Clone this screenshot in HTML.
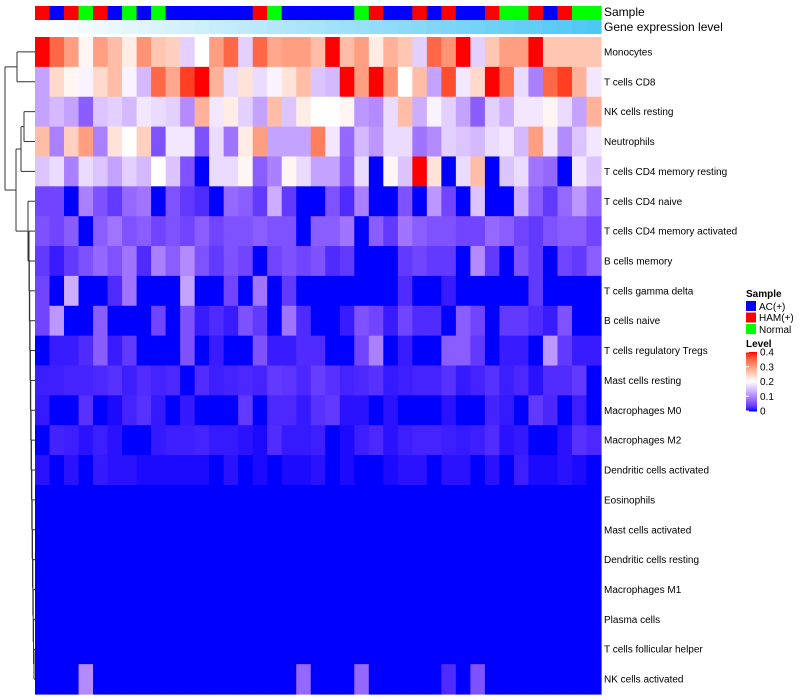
<!DOCTYPE html>
<html><head><meta charset="utf-8"><style>
html,body{margin:0;padding:0;background:#fff;}
svg{display:block;font-family:"Liberation Sans",Arial,sans-serif;}
</style></head><body>
<svg id="chart" width="800" height="700" viewBox="0 0 800 700" xmlns="http://www.w3.org/2000/svg">
<g id="dend" stroke="#333" stroke-width="1" fill="none"></g>
<g id="cells"></g>
<g id="anno"></g>
<g id="labels" font-size="10" fill="#000"></g>
<text x="604" y="16" font-size="12">Sample</text>
<text x="604" y="31" font-size="12">Gene expression level</text>
<g font-size="10">
<text x="746" y="297" font-weight="bold">Sample</text>
<rect x="746" y="301" width="10" height="10" fill="#0000ff"/>
<text x="759" y="310">AC(+)</text>
<rect x="746" y="312.5" width="10" height="10" fill="#ff0000"/>
<text x="759" y="321">HAM(+)</text>
<rect x="746" y="324" width="10" height="10" fill="#00ff00"/>
<text x="759" y="333">Normal</text>
<text x="746" y="347" font-weight="bold">Level</text>
<g id="grad"></g>
<g id="gradlab"></g>
</g>
</svg>
<script>
const rowNames=["Monocytes","T cells CD8","NK cells resting","Neutrophils","T cells CD4 memory resting","T cells CD4 naive","T cells CD4 memory activated","B cells memory","T cells gamma delta","B cells naive","T cells regulatory  Tregs","Mast cells resting","Macrophages M0","Macrophages M2","Dendritic cells activated","Eosinophils","Mast cells activated","Dendritic cells resting","Macrophages M1","Plasma cells","T cells follicular helper","NK cells activated"];
const sampleGroups=["R","B","R","G","R","B","G","B","G","B","B","B","B","B","B","R","G","B","B","B","B","B","G","R","B","B","R","B","R","B","B","R","G","G","R","B","R","G","G"];
const r0=[0.4,0.35,0.3,0.21,0.3,0.27,0.22,0.31,0.26,0.25,0.16,0.2,0.3,0.35,0.16,0.35,0.29,0.3,0.3,0.27,0.4,0.27,0.3,0.22,0.28,0.26,0.16,0.35,0.31,0.4,0.16,0.26,0.3,0.3,0.4,0.26,0.26,0.26,0.26];
const r1=[0.12,0.24,0.21,0.19,0.24,0.27,0.19,0.14,0.35,0.29,0.38,0.4,0.28,0.17,0.23,0.17,0.19,0.23,0.27,0.15,0.14,0.4,0.3,0.4,0.31,0.2,0.27,0.12,0.37,0.18,0.24,0.4,0.34,0.17,0.09,0.35,0.38,0.28,0.18];
const r2=[0.12,0.14,0.12,0.06,0.15,0.16,0.14,0.18,0.17,0.16,0.1,0.28,0.18,0.22,0.16,0.12,0.27,0.15,0.22,0.2,0.2,0.21,0.11,0.1,0.17,0.27,0.13,0.19,0.16,0.12,0.06,0.16,0.13,0.18,0.18,0.21,0.17,0.12,0.28];
const r3=[0.27,0.09,0.25,0.3,0.09,0.23,0.2,0.25,0.05,0.18,0.18,0.05,0.17,0.08,0.22,0.3,0.12,0.12,0.12,0.33,0.18,0.07,0.14,0.11,0.17,0.17,0.08,0.1,0.16,0.15,0.14,0.17,0.18,0.14,0.3,0.18,0.1,0.15,0.18];
const r4=[0.15,0.17,0.09,0.17,0.15,0.12,0.16,0.14,0.2,0.15,0.05,0,0.17,0.17,0.21,0.06,0.09,0.21,0.17,0.12,0.12,0.06,0.17,0,0.21,0.15,0.4,0.23,0,0.17,0.27,0,0.15,0.17,0.08,0.07,0,0.18,0.15];
const r5=[0.04,0.04,0,0.09,0.05,0.03,0.07,0.08,0,0.05,0.03,0.02,0,0.07,0.06,0.03,0.13,0.03,0,0,0.05,0.02,0.09,0,0,0.05,0,0.11,0.04,0,0.15,0,0,0.13,0.06,0.03,0.07,0.11,0.07];
const r6=[0.05,0.04,0.06,0,0.06,0.08,0.05,0.06,0.04,0.05,0.04,0.06,0.04,0.05,0.05,0.06,0.05,0.05,0,0.06,0.06,0.08,0,0.06,0.03,0.08,0.06,0.05,0.05,0.04,0.04,0.07,0.06,0.04,0.03,0.05,0.06,0.06,0.04];
const r7=[0.03,0.01,0.03,0.05,0.07,0.05,0.08,0.02,0.09,0.06,0.1,0.05,0.03,0.05,0.04,0,0.04,0.05,0.04,0.05,0.02,0.03,0,0,0,0.03,0.04,0.03,0.03,0,0.1,0.03,0,0.05,0.03,0,0.04,0.03,0.06];
const r8=[0.04,0,0.13,0,0,0.02,0.08,0,0,0,0.12,0,0,0.04,0,0.08,0,0.03,0,0,0,0,0,0,0,0.02,0,0,0.01,0,0,0,0,0,0.03,0,0,0,0];
const r9=[0.04,0.11,0,0,0.06,0,0,0,0.04,0,0.05,0.01,0.02,0.01,0.05,0.03,0,0.08,0.02,0,0,0.01,0.05,0.04,0.01,0.04,0.02,0.02,0,0.06,0.04,0,0.03,0.03,0.02,0.01,0.05,0,0];
const r10=[0,0.01,0.01,0.02,0.06,0.01,0.03,0,0,0,0.05,0,0.01,0,0,0.05,0.01,0.01,0.02,0.02,0,0,0.04,0.09,0,0.01,0,0,0.06,0.06,0.03,0,0.01,0.01,0,0.11,0.03,0.01,0.01];
const r11=[0.012,0.012,0.015,0.015,0.018,0.024,0.012,0.021,0.015,0.018,0,0.021,0.012,0.015,0.018,0.015,0.03,0.027,0.018,0.033,0.024,0.015,0.018,0.024,0.009,0.012,0.015,0.015,0.024,0.009,0.015,0.024,0.012,0.018,0.006,0.021,0.021,0.03,0];
const r12=[0.009,0,0,0.024,0,0.003,0.015,0.024,0.009,0,0.009,0,0,0,0.03,0,0.018,0.018,0.009,0.024,0.03,0.006,0.006,0,0.006,0,0,0,0.006,0,0,0.015,0.009,0,0.03,0.018,0,0.012,0];
const r13=[0,0.015,0.012,0.006,0.012,0.006,0,0,0.009,0.012,0.012,0.015,0.009,0.009,0.006,0.003,0.021,0.009,0.009,0.012,0,0.003,0.012,0.018,0.006,0.012,0.015,0.015,0.012,0.009,0.012,0.021,0.006,0.009,0,0,0.006,0.024,0.018];
const r14=[0.006,0,0.006,0,0.009,0.006,0.006,0.003,0.003,0.003,0.003,0.003,0,0.006,0,0.003,0,0.003,0.003,0.006,0,0.003,0,0,0.003,0.006,0.006,0,0.006,0.006,0,0.006,0,0.012,0.003,0.003,0.006,0.003,0];
const r15=[0,0,0,0,0,0,0,0,0,0,0,0,0,0,0,0,0,0,0,0,0,0,0,0,0,0,0,0,0,0,0,0,0,0,0,0,0,0,0];
const r16=[0,0,0,0,0,0,0,0,0,0,0,0,0,0,0,0,0,0,0,0,0,0,0,0,0,0,0,0,0,0,0,0,0,0,0,0,0,0,0];
const r17=[0,0,0,0,0,0,0,0,0,0,0,0,0,0,0,0,0,0,0,0,0,0,0,0,0,0,0,0,0,0,0,0,0,0,0,0,0,0,0];
const r18=[0,0,0,0,0,0,0,0,0,0,0,0,0,0,0,0,0,0,0,0,0,0,0,0,0,0,0,0,0,0,0,0,0,0,0,0,0,0,0];
const r19=[0,0,0,0,0,0,0,0,0,0,0,0,0,0,0,0,0,0,0,0,0,0,0,0,0,0,0,0,0,0,0,0,0,0,0,0,0,0,0];
const r20=[0,0,0,0,0,0,0,0,0,0,0,0,0,0,0,0,0,0,0,0,0,0,0,0,0,0,0,0,0,0,0,0,0,0,0,0,0,0,0];
const r21=[0,0,0,0.1,0,0,0,0,0,0,0,0,0,0,0,0,0,0,0.07,0,0,0,0.07,0,0,0,0,0,0.02,0,0.05,0,0,0,0,0,0,0,0];
const values=[r0,r1,r2,r3,r4,r5,r6,r7,r8,r9,r10,r11,r12,r13,r14,r15,r16,r17,r18,r19,r20,r21];
const legendTicks=[0,0.1,0.2,0.3,0.4];

const NS="http://www.w3.org/2000/svg";
const X0=35,X1=601,Y0=37,Y1=694;
const nCol=sampleGroups.length,nRow=rowNames.length;
const cw=(X1-X0)/nCol,rh=(Y1-Y0)/nRow;
const xPos=j=>X0+j*cw, yPos=i=>Y0+i*rh;
function s2l(c){c/=255;return c<=0.04045?c/12.92:Math.pow((c+0.055)/1.055,2.4);}
function l2s(c){c=c<=0.0031308?12.92*c:1.055*Math.pow(c,1/2.4)-0.055;return Math.max(0,Math.min(255,Math.round(c*255)));}
function toLab(r,g,b){r=s2l(r);g=s2l(g);b=s2l(b);
 let x=(0.4124*r+0.3576*g+0.1805*b)/0.95047,y=0.2126*r+0.7152*g+0.0722*b,z=(0.0193*r+0.1192*g+0.9505*b)/1.08883;
 const f=t=>t>0.008856?Math.cbrt(t):7.787*t+16/116;x=f(x);y=f(y);z=f(z);
 return [116*y-16,500*(x-y),200*(y-z)];}
function fromLab(L,a,bb){let y=(L+16)/116,x=a/500+y,z=y-bb/200;
 const fi=t=>t*t*t>0.008856?t*t*t:(t-16/116)/7.787;x=fi(x)*0.95047;y=fi(y);z=fi(z)*1.08883;
 const r=3.2406*x-1.5372*y-0.4986*z,g=-0.9689*x+1.8758*y+0.0415*z,b=0.0557*x-0.2040*y+1.0570*z;
 return `rgb(${l2s(r)},${l2s(g)},${l2s(b)})`;}
const cBlue=toLab(0,0,255),cWhite=toLab(255,255,255),cRed=toLab(255,0,0);
function color(v){v=Math.max(0,Math.min(0.4,v));let a,b,t;
 if(v<=0.2){a=cBlue;b=cWhite;t=v/0.2;}else{a=cWhite;b=cRed;t=(v-0.2)/0.2;}
 return fromLab(a[0]+(b[0]-a[0])*t,a[1]+(b[1]-a[1])*t,a[2]+(b[2]-a[2])*t);}
function mk(tag,attrs,parent){const e=document.createElementNS(NS,tag);for(const k in attrs)e.setAttribute(k,attrs[k]);parent.appendChild(e);return e;}

const cells=document.getElementById('cells');
values.forEach((row,i)=>row.forEach((v,j)=>{
 const r=mk('rect',{x:xPos(j),y:yPos(i),width:cw+0.6,height:rh+0.6,fill:color(v)},cells);
 
 
}));
const anno=document.getElementById('anno');
const gcol={R:'#ff0000',B:'#0000ff',G:'#00ff00'};
sampleGroups.forEach((s,j)=>{
 const r=mk('rect',{x:xPos(j),y:6,width:cw+0.6,height:14,fill:gcol[s]},anno);
 
 
 const t=j/(nCol-1);
 const g=mk('rect',{x:xPos(j),y:20,width:cw+0.6,height:14,fill:`rgb(${Math.round(255-176*t)},${Math.round(255-56*t)},${Math.round(255-11*t)})`},anno);
 
 
});
const labels=document.getElementById('labels');
rowNames.forEach((n,i)=>{
 const t=mk('text',{x:604,y:yPos(i)+rh/2+3.5},labels);t.textContent=n;
 
 
});
const d=document.getElementById('dend');
const yc=i=>yPos(i)+rh/2;
function seg(x1,y1,x2,y2){const l=mk('line',{x1,y1,x2,y2},d);
 
 }
function join(xa,ya,xb,yb,x){seg(xa,ya,x,ya);seg(xb,yb,x,yb);seg(x,ya,x,yb);return [x,(ya+yb)/2];}
const n01=join(35,yc(0),35,yc(1),17);
const n23=join(35,yc(2),35,yc(3),24);
const n234=join(n23[0],n23[1],35,yc(4),21);
let node=join(35,yc(20),35,yc(21),34);
for(let i=19;i>=6;i--){node=join(35,yc(i),node[0],node[1],Math.min(33.5,29+(i-6)*0.35));}
node=join(35,yc(5),node[0],node[1],28);
const nUp=join(n234[0],n234[1],node[0],node[1],16);
join(n01[0],n01[1],nUp[0],nUp[1],5);
const grad=document.getElementById('grad');
const GB0=352,GB1=411;
for(let k=0;k<60;k++){const v=0.4*(1-k/59);
 const r=mk('rect',{x:746,y:GB0+k*(GB1-GB0)/60,width:11,height:(GB1-GB0)/60+0.5,fill:color(v)},grad);
 
 }
const gl=document.getElementById('gradlab');
legendTicks.forEach(v=>{const y=GB1-(v/0.4)*(GB1-GB0);
 const l=mk('line',{x1:746,x2:749,y1:y,y2:y,stroke:'#fff','stroke-width':1},gl);
 
 
 const t=mk('text',{x:760,y:y+3.5,'font-size':10},gl);t.textContent=String(v);
 
 });
</script>
</body></html>
